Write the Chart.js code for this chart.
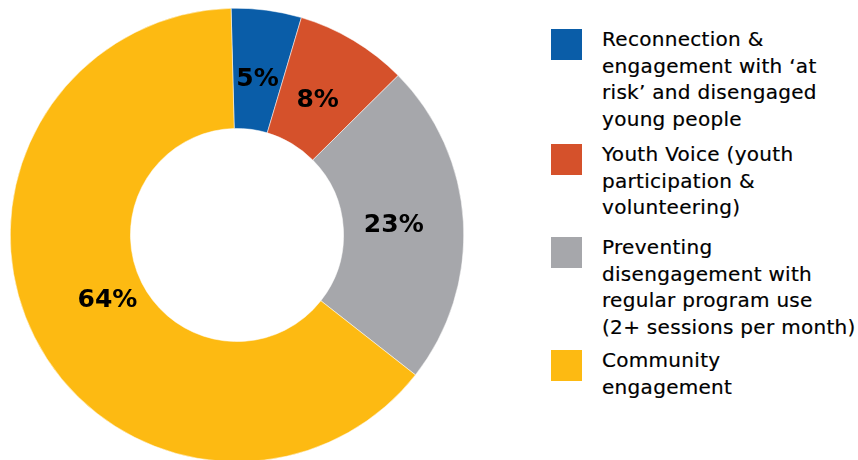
<!DOCTYPE html>
<html>
<head>
<meta charset="utf-8">
<script src="https://cdn.jsdelivr.net/npm/chart.js@4"></script>
<style>
  html, body { margin: 0; padding: 0; background: #fff; overflow: hidden; }
  body { width: 858px; height: 460px; position: relative; font-family: "DejaVu Sans", sans-serif; }
  #wrap { position: absolute; left: 10px; top: 8px; width: 454px; height: 454px; }
  #legend { position: absolute; left: 551px; top: 29px; }
  .item { position: absolute; left: 0; }
  .box { position: absolute; left: 0; top: 0; width: 31px; height: 31px; }
  .txt { position: absolute; left: 51px; top: -3px; font-size: 20px; line-height: 26.7px; letter-spacing: 0.3px; color: #000; white-space: nowrap; -webkit-text-stroke: 0.2px #000; }
</style>
</head>
<body>
<div id="wrap"><canvas id="donut"></canvas></div>
<div id="legend"></div>
<script>
// chart data
const categories = [
    ['Reconnection &', 'engagement with \u2018at', 'risk\u2019 and disengaged', 'young people'],
    ['Youth Voice (youth', 'participation &', 'volunteering)'],
    ['Preventing', 'disengagement with', 'regular program use', '(2+ sessions per month)'],
    ['Community', 'engagement']
];
const shares = [5, 8, 23, 64];
const sliceColors = ['#0A5DA8', '#D5512B', '#A6A7AB', '#FDBA12'];

document.addEventListener('DOMContentLoaded', () => {
    // html legend on the right
    const legend = document.getElementById('legend');
    const itemTops = [0, 115, 208, 321];
    categories.forEach((lines, i) => {
        const item = document.createElement('div');
        item.className = 'item';
        item.style.top = itemTops[i] + 'px';
        item.innerHTML = `
            <div class="box" style="background:${sliceColors[i]}"></div>
            <div class="txt">${lines.join('<br>')}</div>
        `;
        legend.appendChild(item);
    });

    // percentage labels inside the ring (big slice label sits a bit further in)
    const sliceLabels = {
        id: 'sliceLabels',
        afterDatasetsDraw(chart) {
            const ctx = chart.ctx;
            const meta = chart.getDatasetMeta(0);
            ctx.save();
            ctx.font = 'bold 25px "DejaVu Sans", sans-serif';
            ctx.fillStyle = '#000';
            ctx.textAlign = 'center';
            ctx.textBaseline = 'middle';
            meta.data.forEach((arc, i) => {
                const p = arc.getProps(['x', 'y', 'startAngle', 'endAngle', 'innerRadius', 'outerRadius']);
                const mid = (p.startAngle + p.endAngle) / 2;
                const frac = shares[i] > 50 ? 0.32 : 0.42;
                const r = p.innerRadius + (p.outerRadius - p.innerRadius) * frac;
                ctx.fillText(shares[i] + '%', p.x + Math.cos(mid) * r, p.y + Math.sin(mid) * r);
            });
            ctx.restore();
        }
    };

    new Chart(document.getElementById('donut'), {
        type: 'doughnut',
        data: {
            labels: categories.map(c => c.join(' ')),
            datasets: [{
                data: shares,
                backgroundColor: sliceColors,
                borderColor: '#fff',
                borderWidth: 0.5
            }]
        },
        options: {
            responsive: true,
            maintainAspectRatio: false,
            animation: false,
            cutout: '47%',
            rotation: -1.5,
            layout: { padding: 0 },
            plugins: {
                legend: { display: false },
                tooltip: { enabled: false }
            }
        },
        plugins: [sliceLabels]
    });
});
</script>
</body>
</html>
